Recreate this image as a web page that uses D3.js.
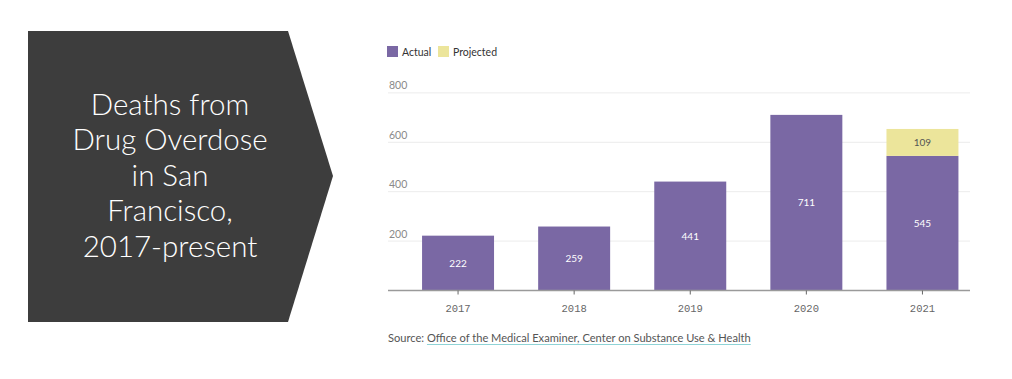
<!DOCTYPE html>
<html>
<head>
<meta charset="utf-8">
<script src="https://cdn.jsdelivr.net/npm/d3@7"></script>
<style>
  html, body { margin: 0; padding: 0; background: #fff; }
  svg { display: block; }
</style>
</head>
<body>
<svg id="chart" width="1012" height="379"></svg>
<script>
const years = ["2017", "2018", "2019", "2020", "2021"];
const actual = [222, 259, 441, 711, 545];
const projected = [0, 0, 0, 0, 109];
const yTicks = [200, 400, 600, 800];
const legendLabels = ["Actual", "Projected"];
const titleLines = ["Deaths from", "Drug Overdose", "in San", "Francisco,", "2017-present"];
const sourceLabel = "Source: ";
const sourceLink = "Office of the Medical Examiner, Center on Substance Use & Health";

const colors = { actual: "#7a68a4", projected: "#ece59b" };

const svg = d3.select("#chart");

// Title pentagon
const shape = [[28, 31], [288, 31], [333, 176], [288, 322], [28, 322]];
svg.append("path")
  .attr("d", d3.line()(shape) + "Z")
  .attr("fill", "#3d3d3d");

const title = svg.append("g");
titleLines.forEach((t, i) => {
  title.append("text")
    .attr("x", 170)
    .attr("y", 115 + i * 35.4)
    .attr("text-anchor", "middle")
    .attr("fill", "#fff")
    .style("font-family", "Lato, 'Open Sans', sans-serif")
    .style("font-weight", 300)
    .style("font-size", "29.5px")
    .text(t);
});

// Scales
const x = d3.scaleBand().domain(years).range([400, 980.5]).paddingInner(0.38).paddingOuter(0.19);
const y = d3.scaleLinear().domain([0, 800]).range([290.5, 92.9]);
const gridX0 = 388, gridX1 = 970;

// Gridlines
svg.append("g").selectAll("line").data(yTicks).join("line")
  .attr("x1", gridX0).attr("x2", gridX1)
  .attr("y1", d => y(d)).attr("y2", d => y(d))
  .attr("stroke", "#ececec").attr("stroke-width", 1);

svg.append("g").selectAll("text").data(yTicks).join("text")
  .attr("x", 389)
  .attr("y", d => y(d) - 3.5)
  .attr("fill", "#8a8a8a")
  .style("font-family", "Lato, 'Noto Sans', sans-serif")
  .style("font-size", "10.5px")
  .text(d => d);

// Bars
const data = years.map((yr, i) => ({ yr, a: actual[i], p: projected[i] }));

svg.append("g").selectAll("rect").data(data).join("rect")
  .attr("x", d => x(d.yr)).attr("width", x.bandwidth())
  .attr("y", d => y(d.a)).attr("height", d => y(0) - y(d.a))
  .attr("fill", colors.actual);

svg.append("g").selectAll("rect").data(data.filter(d => d.p > 0)).join("rect")
  .attr("x", d => x(d.yr)).attr("width", x.bandwidth())
  .attr("y", d => y(d.a + d.p)).attr("height", d => y(d.a) - y(d.a + d.p))
  .attr("fill", colors.projected);

// Bar labels
svg.append("g").selectAll("text").data(data).join("text")
  .attr("x", d => x(d.yr) + x.bandwidth() / 2)
  .attr("y", d => (y(d.a) + y(0)) / 2 + 3.5)
  .attr("text-anchor", "middle")
  .attr("fill", "#fff")
  .style("font-family", "Lato, 'Noto Sans', sans-serif")
  .style("font-size", "10px")
  .text(d => d.a);

svg.append("g").selectAll("text").data(data.filter(d => d.p > 0)).join("text")
  .attr("x", d => x(d.yr) + x.bandwidth() / 2)
  .attr("y", d => (y(d.a) + y(d.a + d.p)) / 2 + 3.5)
  .attr("text-anchor", "middle")
  .attr("fill", "#555")
  .style("font-family", "Lato, 'Noto Sans', sans-serif")
  .style("font-size", "10px")
  .text(d => d.p);

// X axis
svg.append("line")
  .attr("x1", gridX0).attr("x2", gridX1)
  .attr("y1", y(0)).attr("y2", y(0))
  .attr("stroke", "#9a9a9a").attr("stroke-width", 1.5);

const xAxis = d3.axisBottom(x).tickSize(4).tickPadding(10);
const gx = svg.append("g").attr("transform", `translate(0,${y(0)})`).call(xAxis);
gx.select(".domain").remove();
gx.selectAll(".tick line").attr("stroke", "#666");
gx.selectAll(".tick text")
  .attr("fill", "#666")
  .style("font-family", "'Liberation Mono', 'DejaVu Sans Mono', monospace")
  .style("font-size", "10.5px");

// Legend
const legend = svg.append("g");
const legendColors = [colors.actual, colors.projected];
const legendX = [387, 438];
legendLabels.forEach((l, i) => {
  legend.append("rect").attr("x", legendX[i]).attr("y", 46).attr("width", 11).attr("height", 11)
    .attr("fill", legendColors[i]);
  legend.append("text").attr("x", legendX[i] + 15).attr("y", 55.5)
    .attr("fill", "#333")
    .style("font-family", "Lato, 'Noto Sans', sans-serif")
    .style("font-size", "10.5px")
    .text(l);
});

// Source
const src = svg.append("text").attr("x", 388).attr("y", 342)
  .style("font-family", "Lato, 'Noto Sans', sans-serif")
  .style("font-size", "11.1px")
  .attr("fill", "#555");
src.append("tspan").text(sourceLabel);
src.append("tspan").text(sourceLink);

// underline for link
const bbox = src.node().getBBox();
const labelW = src.node().getSubStringLength(0, sourceLabel.length);
svg.append("line")
  .attr("x1", bbox.x + labelW).attr("x2", bbox.x + bbox.width)
  .attr("y1", 344.5).attr("y2", 344.5)
  .attr("stroke", "#8fd3d6").attr("stroke-width", 1.2);
</script>
</body>
</html>
